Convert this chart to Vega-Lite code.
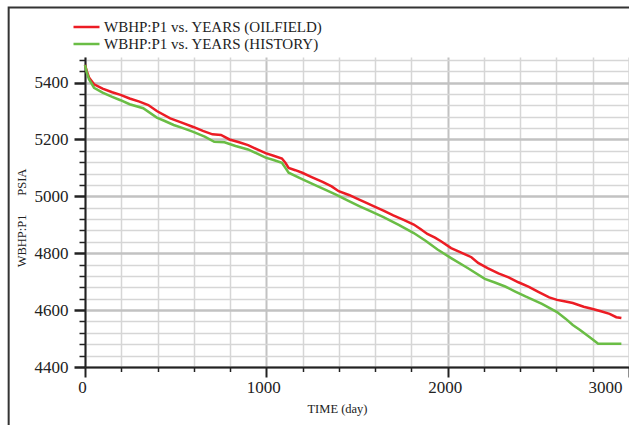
{
  "$schema": "https://vega.github.io/schema/vega-lite/v6.json",
  "width": 544,
  "height": 310,
  "autosize": "none",
  "padding": {"left": 85, "top": 57, "right": 0, "bottom": 58},
  "background": "white",
  "config": {
    "font": "Liberation Serif",
    "view": {"stroke": null}
  },
  "resolve": {"axis": {"x": "independent", "y": "independent"}},
  "datasets": {
    "curves": [
      {"series": "WBHP:P1 vs. YEARS (OILFIELD)", "day": 0, "psi": 5462},
      {"series": "WBHP:P1 vs. YEARS (OILFIELD)", "day": 10, "psi": 5440},
      {"series": "WBHP:P1 vs. YEARS (OILFIELD)", "day": 22, "psi": 5418},
      {"series": "WBHP:P1 vs. YEARS (OILFIELD)", "day": 50, "psi": 5394},
      {"series": "WBHP:P1 vs. YEARS (OILFIELD)", "day": 97, "psi": 5379},
      {"series": "WBHP:P1 vs. YEARS (OILFIELD)", "day": 150, "psi": 5366},
      {"series": "WBHP:P1 vs. YEARS (OILFIELD)", "day": 196, "psi": 5357},
      {"series": "WBHP:P1 vs. YEARS (OILFIELD)", "day": 246, "psi": 5344},
      {"series": "WBHP:P1 vs. YEARS (OILFIELD)", "day": 300, "psi": 5333},
      {"series": "WBHP:P1 vs. YEARS (OILFIELD)", "day": 349, "psi": 5321},
      {"series": "WBHP:P1 vs. YEARS (OILFIELD)", "day": 396, "psi": 5300},
      {"series": "WBHP:P1 vs. YEARS (OILFIELD)", "day": 470, "psi": 5274},
      {"series": "WBHP:P1 vs. YEARS (OILFIELD)", "day": 530, "psi": 5260},
      {"series": "WBHP:P1 vs. YEARS (OILFIELD)", "day": 597, "psi": 5244},
      {"series": "WBHP:P1 vs. YEARS (OILFIELD)", "day": 650, "psi": 5230},
      {"series": "WBHP:P1 vs. YEARS (OILFIELD)", "day": 703, "psi": 5218},
      {"series": "WBHP:P1 vs. YEARS (OILFIELD)", "day": 750, "psi": 5216},
      {"series": "WBHP:P1 vs. YEARS (OILFIELD)", "day": 797, "psi": 5200},
      {"series": "WBHP:P1 vs. YEARS (OILFIELD)", "day": 850, "psi": 5190},
      {"series": "WBHP:P1 vs. YEARS (OILFIELD)", "day": 899, "psi": 5180},
      {"series": "WBHP:P1 vs. YEARS (OILFIELD)", "day": 950, "psi": 5165},
      {"series": "WBHP:P1 vs. YEARS (OILFIELD)", "day": 996, "psi": 5152},
      {"series": "WBHP:P1 vs. YEARS (OILFIELD)", "day": 1040, "psi": 5143},
      {"series": "WBHP:P1 vs. YEARS (OILFIELD)", "day": 1086, "psi": 5133},
      {"series": "WBHP:P1 vs. YEARS (OILFIELD)", "day": 1105, "psi": 5118},
      {"series": "WBHP:P1 vs. YEARS (OILFIELD)", "day": 1123, "psi": 5100},
      {"series": "WBHP:P1 vs. YEARS (OILFIELD)", "day": 1160, "psi": 5092},
      {"series": "WBHP:P1 vs. YEARS (OILFIELD)", "day": 1198, "psi": 5083},
      {"series": "WBHP:P1 vs. YEARS (OILFIELD)", "day": 1250, "psi": 5068},
      {"series": "WBHP:P1 vs. YEARS (OILFIELD)", "day": 1310, "psi": 5051},
      {"series": "WBHP:P1 vs. YEARS (OILFIELD)", "day": 1360, "psi": 5035},
      {"series": "WBHP:P1 vs. YEARS (OILFIELD)", "day": 1399, "psi": 5018},
      {"series": "WBHP:P1 vs. YEARS (OILFIELD)", "day": 1459, "psi": 5004},
      {"series": "WBHP:P1 vs. YEARS (OILFIELD)", "day": 1500, "psi": 4992},
      {"series": "WBHP:P1 vs. YEARS (OILFIELD)", "day": 1552, "psi": 4977},
      {"series": "WBHP:P1 vs. YEARS (OILFIELD)", "day": 1600, "psi": 4963},
      {"series": "WBHP:P1 vs. YEARS (OILFIELD)", "day": 1646, "psi": 4950},
      {"series": "WBHP:P1 vs. YEARS (OILFIELD)", "day": 1700, "psi": 4933},
      {"series": "WBHP:P1 vs. YEARS (OILFIELD)", "day": 1757, "psi": 4917},
      {"series": "WBHP:P1 vs. YEARS (OILFIELD)", "day": 1813, "psi": 4901},
      {"series": "WBHP:P1 vs. YEARS (OILFIELD)", "day": 1850, "psi": 4885},
      {"series": "WBHP:P1 vs. YEARS (OILFIELD)", "day": 1888, "psi": 4868},
      {"series": "WBHP:P1 vs. YEARS (OILFIELD)", "day": 1930, "psi": 4855},
      {"series": "WBHP:P1 vs. YEARS (OILFIELD)", "day": 1963, "psi": 4842},
      {"series": "WBHP:P1 vs. YEARS (OILFIELD)", "day": 2019, "psi": 4818},
      {"series": "WBHP:P1 vs. YEARS (OILFIELD)", "day": 2075, "psi": 4802},
      {"series": "WBHP:P1 vs. YEARS (OILFIELD)", "day": 2131, "psi": 4786},
      {"series": "WBHP:P1 vs. YEARS (OILFIELD)", "day": 2168, "psi": 4766},
      {"series": "WBHP:P1 vs. YEARS (OILFIELD)", "day": 2220, "psi": 4748},
      {"series": "WBHP:P1 vs. YEARS (OILFIELD)", "day": 2280, "psi": 4729},
      {"series": "WBHP:P1 vs. YEARS (OILFIELD)", "day": 2336, "psi": 4715},
      {"series": "WBHP:P1 vs. YEARS (OILFIELD)", "day": 2390, "psi": 4698},
      {"series": "WBHP:P1 vs. YEARS (OILFIELD)", "day": 2448, "psi": 4682},
      {"series": "WBHP:P1 vs. YEARS (OILFIELD)", "day": 2500, "psi": 4664},
      {"series": "WBHP:P1 vs. YEARS (OILFIELD)", "day": 2560, "psi": 4645},
      {"series": "WBHP:P1 vs. YEARS (OILFIELD)", "day": 2603, "psi": 4636},
      {"series": "WBHP:P1 vs. YEARS (OILFIELD)", "day": 2650, "psi": 4630},
      {"series": "WBHP:P1 vs. YEARS (OILFIELD)", "day": 2690, "psi": 4625},
      {"series": "WBHP:P1 vs. YEARS (OILFIELD)", "day": 2750, "psi": 4612},
      {"series": "WBHP:P1 vs. YEARS (OILFIELD)", "day": 2800, "psi": 4604},
      {"series": "WBHP:P1 vs. YEARS (OILFIELD)", "day": 2850, "psi": 4595},
      {"series": "WBHP:P1 vs. YEARS (OILFIELD)", "day": 2893, "psi": 4587},
      {"series": "WBHP:P1 vs. YEARS (OILFIELD)", "day": 2930, "psi": 4575},
      {"series": "WBHP:P1 vs. YEARS (OILFIELD)", "day": 2958, "psi": 4572},
      {"series": "WBHP:P1 vs. YEARS (HISTORY)", "day": 0, "psi": 5462},
      {"series": "WBHP:P1 vs. YEARS (HISTORY)", "day": 10, "psi": 5435},
      {"series": "WBHP:P1 vs. YEARS (HISTORY)", "day": 22, "psi": 5412},
      {"series": "WBHP:P1 vs. YEARS (HISTORY)", "day": 50, "psi": 5382},
      {"series": "WBHP:P1 vs. YEARS (HISTORY)", "day": 97, "psi": 5365},
      {"series": "WBHP:P1 vs. YEARS (HISTORY)", "day": 150, "psi": 5350},
      {"series": "WBHP:P1 vs. YEARS (HISTORY)", "day": 196, "psi": 5338},
      {"series": "WBHP:P1 vs. YEARS (HISTORY)", "day": 246, "psi": 5324},
      {"series": "WBHP:P1 vs. YEARS (HISTORY)", "day": 321, "psi": 5310},
      {"series": "WBHP:P1 vs. YEARS (HISTORY)", "day": 396, "psi": 5277},
      {"series": "WBHP:P1 vs. YEARS (HISTORY)", "day": 440, "psi": 5265},
      {"series": "WBHP:P1 vs. YEARS (HISTORY)", "day": 489, "psi": 5251},
      {"series": "WBHP:P1 vs. YEARS (HISTORY)", "day": 540, "psi": 5240},
      {"series": "WBHP:P1 vs. YEARS (HISTORY)", "day": 597, "psi": 5227},
      {"series": "WBHP:P1 vs. YEARS (HISTORY)", "day": 660, "psi": 5210},
      {"series": "WBHP:P1 vs. YEARS (HISTORY)", "day": 713, "psi": 5192},
      {"series": "WBHP:P1 vs. YEARS (HISTORY)", "day": 769, "psi": 5190},
      {"series": "WBHP:P1 vs. YEARS (HISTORY)", "day": 830, "psi": 5177},
      {"series": "WBHP:P1 vs. YEARS (HISTORY)", "day": 899, "psi": 5165},
      {"series": "WBHP:P1 vs. YEARS (HISTORY)", "day": 950, "psi": 5150},
      {"series": "WBHP:P1 vs. YEARS (HISTORY)", "day": 996, "psi": 5136},
      {"series": "WBHP:P1 vs. YEARS (HISTORY)", "day": 1040, "psi": 5128},
      {"series": "WBHP:P1 vs. YEARS (HISTORY)", "day": 1086, "psi": 5118},
      {"series": "WBHP:P1 vs. YEARS (HISTORY)", "day": 1105, "psi": 5100},
      {"series": "WBHP:P1 vs. YEARS (HISTORY)", "day": 1123, "psi": 5083},
      {"series": "WBHP:P1 vs. YEARS (HISTORY)", "day": 1200, "psi": 5060},
      {"series": "WBHP:P1 vs. YEARS (HISTORY)", "day": 1272, "psi": 5039},
      {"series": "WBHP:P1 vs. YEARS (HISTORY)", "day": 1330, "psi": 5022},
      {"series": "WBHP:P1 vs. YEARS (HISTORY)", "day": 1384, "psi": 5006},
      {"series": "WBHP:P1 vs. YEARS (HISTORY)", "day": 1450, "psi": 4985},
      {"series": "WBHP:P1 vs. YEARS (HISTORY)", "day": 1515, "psi": 4965},
      {"series": "WBHP:P1 vs. YEARS (HISTORY)", "day": 1580, "psi": 4946},
      {"series": "WBHP:P1 vs. YEARS (HISTORY)", "day": 1646, "psi": 4927},
      {"series": "WBHP:P1 vs. YEARS (HISTORY)", "day": 1730, "psi": 4900},
      {"series": "WBHP:P1 vs. YEARS (HISTORY)", "day": 1813, "psi": 4871},
      {"series": "WBHP:P1 vs. YEARS (HISTORY)", "day": 1880, "psi": 4843},
      {"series": "WBHP:P1 vs. YEARS (HISTORY)", "day": 1944, "psi": 4813},
      {"series": "WBHP:P1 vs. YEARS (HISTORY)", "day": 2019, "psi": 4783},
      {"series": "WBHP:P1 vs. YEARS (HISTORY)", "day": 2110, "psi": 4748},
      {"series": "WBHP:P1 vs. YEARS (HISTORY)", "day": 2205, "psi": 4710},
      {"series": "WBHP:P1 vs. YEARS (HISTORY)", "day": 2260, "psi": 4697},
      {"series": "WBHP:P1 vs. YEARS (HISTORY)", "day": 2317, "psi": 4683},
      {"series": "WBHP:P1 vs. YEARS (HISTORY)", "day": 2370, "psi": 4666},
      {"series": "WBHP:P1 vs. YEARS (HISTORY)", "day": 2429, "psi": 4648},
      {"series": "WBHP:P1 vs. YEARS (HISTORY)", "day": 2520, "psi": 4622},
      {"series": "WBHP:P1 vs. YEARS (HISTORY)", "day": 2603, "psi": 4593},
      {"series": "WBHP:P1 vs. YEARS (HISTORY)", "day": 2650, "psi": 4570},
      {"series": "WBHP:P1 vs. YEARS (HISTORY)", "day": 2690, "psi": 4548},
      {"series": "WBHP:P1 vs. YEARS (HISTORY)", "day": 2730, "psi": 4530},
      {"series": "WBHP:P1 vs. YEARS (HISTORY)", "day": 2765, "psi": 4513},
      {"series": "WBHP:P1 vs. YEARS (HISTORY)", "day": 2800, "psi": 4497},
      {"series": "WBHP:P1 vs. YEARS (HISTORY)", "day": 2830, "psi": 4482},
      {"series": "WBHP:P1 vs. YEARS (HISTORY)", "day": 2958, "psi": 4482}
    ]
  },
  "layer": [
    {
      "data": {"values": [{"frame": "border"}]},
      "mark": {"type": "rect", "fill": "white", "fillOpacity": 0, "stroke": "#333333", "strokeWidth": 2, "clip": false},
      "encoding": {
        "x": {"datum": -421, "type": "quantitative", "scale": {"domain": [0, 3000], "nice": false, "zero": false}, "axis": null},
        "x2": {"datum": 3700},
        "y": {"datum": 5664, "type": "quantitative", "scale": {"domain": [4400, 5490], "nice": false, "zero": false}, "axis": null},
        "y2": {"datum": 4000}
      }
    },
    {
      "data": {"name": "curves"},
      "mark": {"type": "line", "strokeWidth": 2.5},
      "encoding": {
        "x": {
          "field": "day",
          "type": "quantitative",
          "scale": {"domain": [0, 3000], "nice": false, "zero": false},
          "axis": {
            "orient": "bottom",
            "values": [0, 200, 400, 600, 800, 1000, 1200, 1400, 1600, 1800, 2000, 2200, 2400, 2600, 2800, 3000],
            "format": "d",
            "labelExpr": "datum.value % 1000 == 0 ? datum.label : ''",
            "labelOverlap": false,
            "labelFlush": false,
            "labelBound": false,
            "labelFontSize": 17,
            "labelColor": "#222222",
            "labelPadding": 2,
            "labelAlign": {"condition": {"test": "datum.value == 3000", "value": "right"}, "value": "center"},
            "labelOffset": {"condition": {"test": "datum.value == 3000", "value": -7}, "value": -3},
            "tickColor": "#222222",
            "tickSize": {"condition": {"test": "datum.value % 1000 == 0", "value": 10}, "value": 4.5},
            "tickWidth": {"condition": {"test": "datum.value % 1000 == 0", "value": 2}, "value": 1.5},
            "grid": true,
            "gridColor": {"condition": {"test": "datum.value % 1000 == 0", "value": "#c2c2c2"}, "value": "#d6d6d6"},
            "gridWidth": {"condition": {"test": "datum.value % 1000 == 0", "value": 2}, "value": 1.5},
            "domainColor": "#222222",
            "domainWidth": 2,
            "title": "TIME (day)",
            "titleFontSize": 12.5,
            "titleFontWeight": "normal",
            "titleColor": "#222222",
            "titleX": 252,
            "titleY": 41,
            "titleAlign": "center",
            "titleBaseline": "middle"
          }
        },
        "y": {
          "field": "psi",
          "type": "quantitative",
          "scale": {"domain": [4400, 5490], "nice": false, "zero": false},
          "axis": {
            "orient": "left",
            "values": [4400, 4440, 4480, 4520, 4560, 4600, 4640, 4680, 4720, 4760, 4800, 4840, 4880, 4920, 4960, 5000, 5040, 5080, 5120, 5160, 5200, 5240, 5280, 5320, 5360, 5400, 5440, 5480],
            "format": "d",
            "labelExpr": "datum.value % 200 == 0 ? datum.label : ''",
            "labelOverlap": false,
            "labelFlush": false,
            "labelBound": false,
            "labelFontSize": 17,
            "labelColor": "#222222",
            "labelPadding": 6,
            "tickColor": "#222222",
            "tickSize": {"condition": {"test": "datum.value % 200 == 0", "value": 11}, "value": 6},
            "tickWidth": {"condition": {"test": "datum.value % 200 == 0", "value": 2.5}, "value": 1.5},
            "grid": true,
            "gridColor": {"condition": {"test": "datum.value % 200 == 0", "value": "#c2c2c2"}, "value": "#d6d6d6"},
            "gridWidth": {"condition": {"test": "datum.value % 200 == 0", "value": 2.5}, "value": 1.5},
            "domainColor": "#222222",
            "domainWidth": 2,
            "title": "WBHP:P1\u00a0\u00a0\u00a0\u00a0\u00a0\u00a0PSIA",
            "titleFontSize": 12.5,
            "titleFontWeight": "normal",
            "titleColor": "#222222",
            "titleX": -63.5,
            "titleY": 160.5,
            "titleAngle": -90,
            "titleAlign": "center",
            "titleBaseline": "middle"
          }
        },
        "color": {
          "field": "series",
          "type": "nominal",
          "sort": ["WBHP:P1 vs. YEARS (OILFIELD)", "WBHP:P1 vs. YEARS (HISTORY)"],
          "scale": {
            "domain": ["WBHP:P1 vs. YEARS (OILFIELD)", "WBHP:P1 vs. YEARS (HISTORY)"],
            "range": ["#ec1c24", "#6abd45"]
          },
          "legend": {
            "orient": "none",
            "legendX": -6.5,
            "legendY": -38,
            "title": null,
            "padding": 0,
            "symbolType": "M-2,0H2",
            "symbolSize": 169,
            "symbolStrokeWidth": 2.5,
            "symbolFillColor": "transparent",
            "labelFont": "Liberation Serif",
            "labelFontSize": 15,
            "labelColor": "#222222",
            "labelOffset": 9.5,
            "labelLimit": 400,
            "rowPadding": 1
          }
        }
      }
    }
  ]
}
